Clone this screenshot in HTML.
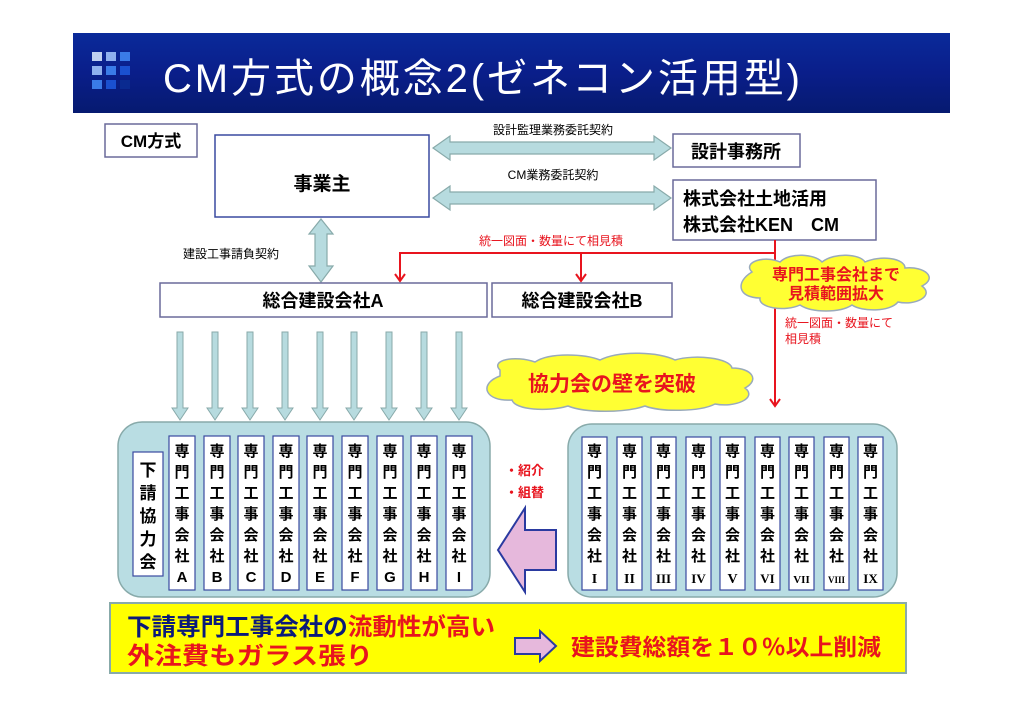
<!DOCTYPE html>
<html><head><meta charset="utf-8"><style>
html,body{margin:0;padding:0;background:#fff;}
svg{display:block;font-family:"Liberation Sans","Noto Sans CJK JP",sans-serif;}
.b{font-weight:bold;}
</style></head><body>
<svg width="1024" height="724" viewBox="0 0 1024 724" xmlns="http://www.w3.org/2000/svg">
<defs>
<linearGradient id="tg" x1="0" y1="0" x2="0" y2="1">
<stop offset="0" stop-color="#0a2a9a"/><stop offset="0.5" stop-color="#0a1e8a"/><stop offset="1" stop-color="#061a70"/>
</linearGradient>
<marker id="ra" markerWidth="12" markerHeight="12" refX="9" refY="6" orient="auto" markerUnits="userSpaceOnUse">
<path d="M2,1 L9,6 L2,11" fill="none" stroke="#e8141e" stroke-width="2"/>
</marker>
</defs>
<rect width="1024" height="724" fill="#fff"/>
<rect x="73" y="33" width="877" height="80" fill="url(#tg)"/>
<g>
<rect x="92" y="52" width="10" height="9" fill="#c0d0f0"/><rect x="106" y="52" width="10" height="9" fill="#8fb0ee"/><rect x="120" y="52" width="10" height="9" fill="#3a7be8"/>
<rect x="92" y="66" width="10" height="9" fill="#8fb0ee"/><rect x="106" y="66" width="10" height="9" fill="#3a7be8"/><rect x="120" y="66" width="10" height="9" fill="#1a50d0"/>
<rect x="92" y="80" width="10" height="9" fill="#3a7be8"/><rect x="106" y="80" width="10" height="9" fill="#1a50d0"/><rect x="120" y="80" width="10" height="9" fill="#0a2a90"/>
</g>
<text x="163" y="92" font-size="40" fill="#fff" textLength="637" lengthAdjust="spacing">CM方式の概念2(ゼネコン活用型)</text>

<rect x="105" y="124" width="92" height="33" fill="#fff" stroke="#6a6a9a" stroke-width="1.5"/>
<text x="151" y="147" font-size="17" class="b" text-anchor="middle">CM方式</text>

<rect x="215" y="135" width="214" height="82" fill="#fff" stroke="#3a4aa0" stroke-width="1.5"/>
<text x="322" y="190" font-size="19" class="b" text-anchor="middle">事業主</text>

<path d="M433,148 L450,136 L450,142 L654,142 L654,136 L671,148 L654,160 L654,154 L450,154 L450,160 Z" fill="#b7dbdf" stroke="#8aa" stroke-width="1.2"/>
<text x="553" y="134" font-size="12" text-anchor="middle">設計監理業務委託契約</text>
<path d="M433,198 L450,186 L450,192 L654,192 L654,186 L671,198 L654,210 L654,204 L450,204 L450,210 Z" fill="#b7dbdf" stroke="#8aa" stroke-width="1.2"/>
<text x="553" y="179" font-size="12" text-anchor="middle">CM業務委託契約</text>

<rect x="673" y="134" width="127" height="33" fill="#fff" stroke="#6a6a9a" stroke-width="1.5"/>
<text x="736" y="158" font-size="18" class="b" text-anchor="middle">設計事務所</text>
<rect x="673" y="180" width="203" height="60" fill="#fff" stroke="#6a6a9a" stroke-width="1.5"/>
<text x="683" y="205" font-size="18" class="b">株式会社土地活用</text>
<text x="683" y="231" font-size="18" class="b">株式会社KEN　CM</text>

<path d="M321,219 L333,234 L327,234 L327,266 L333,266 L321,282 L309,266 L315,266 L315,234 L309,234 Z" fill="#b7dbdf" stroke="#8aa" stroke-width="1.2"/>
<text x="183" y="258" font-size="12">建設工事請負契約</text>

<g stroke="#e8141e" stroke-width="2" fill="none">
<path d="M775,240 L775,406" marker-end="url(#ra)"/>
<path d="M775,253 L400,253 L400,281" marker-end="url(#ra)"/>
<path d="M581,253 L581,281" marker-end="url(#ra)"/>
</g>
<text x="479" y="245" font-size="12" fill="#e8141e">統一図面・数量にて相見積</text>

<rect x="160" y="283" width="327" height="34" fill="#fff" stroke="#6a6a9a" stroke-width="1.5"/>
<text x="323" y="307" font-size="18" class="b" text-anchor="middle">総合建設会社A</text>
<rect x="492" y="283" width="180" height="34" fill="#fff" stroke="#6a6a9a" stroke-width="1.5"/>
<text x="582" y="307" font-size="18" class="b" text-anchor="middle">総合建設会社B</text>

<path d="M752,272 C742,262 765,255 780,262 C790,252 815,254 822,262 C835,252 860,254 865,262 C880,255 905,258 905,268 C925,266 938,278 922,286 C935,296 915,306 898,302 C890,312 862,312 852,305 C840,313 812,313 800,305 C785,312 758,308 760,298 C738,298 735,282 752,272 Z" fill="#ffff33" stroke="#9ab" stroke-width="1.5"/>
<text x="836" y="280" font-size="16" class="b" fill="#e8141e" text-anchor="middle">専門工事会社まで</text>
<text x="836" y="299" font-size="16" class="b" fill="#e8141e" text-anchor="middle">見積範囲拡大</text>
<text x="785" y="327" font-size="12" fill="#e8141e">統一図面・数量にて</text>
<text x="785" y="343" font-size="12" fill="#e8141e">相見積</text>

<path d="M500,370 C490,360 515,355 535,362 C550,352 585,354 600,360 C620,350 660,352 675,360 C695,354 730,358 732,368 C752,368 760,380 745,388 C758,398 735,408 715,404 C700,412 660,412 645,406 C625,413 585,413 568,406 C548,412 515,410 512,400 C485,402 478,384 500,376 Z" fill="#ffff33" stroke="#9ab" stroke-width="1.5"/>
<text x="612" y="391" font-size="21" class="b" fill="#e8141e" text-anchor="middle">協力会の壁を突破</text>

<g fill="#b7dbdf" stroke="#8aa" stroke-width="1">
<path d="M177,332 L183,332 L183,408 L188,408 L180,420 L172,408 L177,408 Z"/>
<path d="M212,332 L218,332 L218,408 L223,408 L215,420 L207,408 L212,408 Z"/>
<path d="M247,332 L253,332 L253,408 L258,408 L250,420 L242,408 L247,408 Z"/>
<path d="M282,332 L288,332 L288,408 L293,408 L285,420 L277,408 L282,408 Z"/>
<path d="M317,332 L323,332 L323,408 L328,408 L320,420 L312,408 L317,408 Z"/>
<path d="M351,332 L357,332 L357,408 L362,408 L354,420 L346,408 L351,408 Z"/>
<path d="M386,332 L392,332 L392,408 L397,408 L389,420 L381,408 L386,408 Z"/>
<path d="M421,332 L427,332 L427,408 L432,408 L424,420 L416,408 L421,408 Z"/>
<path d="M456,332 L462,332 L462,408 L467,408 L459,420 L451,408 L456,408 Z"/>
</g>

<rect x="118" y="422" width="372" height="175" rx="24" fill="#b9dde3" stroke="#8aa" stroke-width="1.5"/>
<rect x="133" y="452" width="30" height="124" fill="#fff" stroke="#3a4aa0" stroke-width="1.2"/>
<g font-size="17" class="b" text-anchor="middle">
<text x="148" y="476">下</text><text x="148" y="499">請</text><text x="148" y="522">協</text><text x="148" y="545">力</text><text x="148" y="568">会</text>
</g>
<g font-size="15" class="b" text-anchor="middle">
<g transform="translate(169,0)"><rect x="0" y="436" width="26" height="154" fill="#fff" stroke="#3a4aa0" stroke-width="1.2"/><text x="13" y="456">専</text><text x="13" y="477">門</text><text x="13" y="498">工</text><text x="13" y="519">事</text><text x="13" y="540">会</text><text x="13" y="561">社</text><text x="13" y="582">A</text></g>
<g transform="translate(204,0)"><rect x="0" y="436" width="26" height="154" fill="#fff" stroke="#3a4aa0" stroke-width="1.2"/><text x="13" y="456">専</text><text x="13" y="477">門</text><text x="13" y="498">工</text><text x="13" y="519">事</text><text x="13" y="540">会</text><text x="13" y="561">社</text><text x="13" y="582">B</text></g>
<g transform="translate(238,0)"><rect x="0" y="436" width="26" height="154" fill="#fff" stroke="#3a4aa0" stroke-width="1.2"/><text x="13" y="456">専</text><text x="13" y="477">門</text><text x="13" y="498">工</text><text x="13" y="519">事</text><text x="13" y="540">会</text><text x="13" y="561">社</text><text x="13" y="582">C</text></g>
<g transform="translate(273,0)"><rect x="0" y="436" width="26" height="154" fill="#fff" stroke="#3a4aa0" stroke-width="1.2"/><text x="13" y="456">専</text><text x="13" y="477">門</text><text x="13" y="498">工</text><text x="13" y="519">事</text><text x="13" y="540">会</text><text x="13" y="561">社</text><text x="13" y="582">D</text></g>
<g transform="translate(307,0)"><rect x="0" y="436" width="26" height="154" fill="#fff" stroke="#3a4aa0" stroke-width="1.2"/><text x="13" y="456">専</text><text x="13" y="477">門</text><text x="13" y="498">工</text><text x="13" y="519">事</text><text x="13" y="540">会</text><text x="13" y="561">社</text><text x="13" y="582">E</text></g>
<g transform="translate(342,0)"><rect x="0" y="436" width="26" height="154" fill="#fff" stroke="#3a4aa0" stroke-width="1.2"/><text x="13" y="456">専</text><text x="13" y="477">門</text><text x="13" y="498">工</text><text x="13" y="519">事</text><text x="13" y="540">会</text><text x="13" y="561">社</text><text x="13" y="582">F</text></g>
<g transform="translate(377,0)"><rect x="0" y="436" width="26" height="154" fill="#fff" stroke="#3a4aa0" stroke-width="1.2"/><text x="13" y="456">専</text><text x="13" y="477">門</text><text x="13" y="498">工</text><text x="13" y="519">事</text><text x="13" y="540">会</text><text x="13" y="561">社</text><text x="13" y="582">G</text></g>
<g transform="translate(411,0)"><rect x="0" y="436" width="26" height="154" fill="#fff" stroke="#3a4aa0" stroke-width="1.2"/><text x="13" y="456">専</text><text x="13" y="477">門</text><text x="13" y="498">工</text><text x="13" y="519">事</text><text x="13" y="540">会</text><text x="13" y="561">社</text><text x="13" y="582">H</text></g>
<g transform="translate(446,0)"><rect x="0" y="436" width="26" height="154" fill="#fff" stroke="#3a4aa0" stroke-width="1.2"/><text x="13" y="456">専</text><text x="13" y="477">門</text><text x="13" y="498">工</text><text x="13" y="519">事</text><text x="13" y="540">会</text><text x="13" y="561">社</text><text x="13" y="582">I</text></g>
</g>

<path d="M498,550 L525,508 L525,530 L556,530 L556,570 L525,570 L525,592 Z" fill="#e6b8dc" stroke="#2a3aa0" stroke-width="2"/>
<text x="505" y="475" font-size="13" class="b" fill="#e8141e">・紹介</text>
<text x="505" y="497" font-size="13" class="b" fill="#e8141e">・組替</text>

<rect x="568" y="424" width="329" height="173" rx="24" fill="#b9dde3" stroke="#8aa" stroke-width="1.5"/>
<g font-size="15" class="b" text-anchor="middle">
<g transform="translate(582,0)"><rect x="0" y="437" width="25" height="153" fill="#fff" stroke="#3a4aa0" stroke-width="1.2"/><text x="12.5" y="456">専</text><text x="12.5" y="477">門</text><text x="12.5" y="498">工</text><text x="12.5" y="519">事</text><text x="12.5" y="540">会</text><text x="12.5" y="561">社</text><text x="12.5" y="583" font-family="Liberation Serif,serif" font-size="14">I</text></g>
<g transform="translate(617,0)"><rect x="0" y="437" width="25" height="153" fill="#fff" stroke="#3a4aa0" stroke-width="1.2"/><text x="12.5" y="456">専</text><text x="12.5" y="477">門</text><text x="12.5" y="498">工</text><text x="12.5" y="519">事</text><text x="12.5" y="540">会</text><text x="12.5" y="561">社</text><text x="12.5" y="583" font-family="Liberation Serif,serif" font-size="14">II</text></g>
<g transform="translate(651,0)"><rect x="0" y="437" width="25" height="153" fill="#fff" stroke="#3a4aa0" stroke-width="1.2"/><text x="12.5" y="456">専</text><text x="12.5" y="477">門</text><text x="12.5" y="498">工</text><text x="12.5" y="519">事</text><text x="12.5" y="540">会</text><text x="12.5" y="561">社</text><text x="12.5" y="583" font-family="Liberation Serif,serif" font-size="13">III</text></g>
<g transform="translate(686,0)"><rect x="0" y="437" width="25" height="153" fill="#fff" stroke="#3a4aa0" stroke-width="1.2"/><text x="12.5" y="456">専</text><text x="12.5" y="477">門</text><text x="12.5" y="498">工</text><text x="12.5" y="519">事</text><text x="12.5" y="540">会</text><text x="12.5" y="561">社</text><text x="12.5" y="583" font-family="Liberation Serif,serif" font-size="13">IV</text></g>
<g transform="translate(720,0)"><rect x="0" y="437" width="25" height="153" fill="#fff" stroke="#3a4aa0" stroke-width="1.2"/><text x="12.5" y="456">専</text><text x="12.5" y="477">門</text><text x="12.5" y="498">工</text><text x="12.5" y="519">事</text><text x="12.5" y="540">会</text><text x="12.5" y="561">社</text><text x="12.5" y="583" font-family="Liberation Serif,serif" font-size="14">V</text></g>
<g transform="translate(755,0)"><rect x="0" y="437" width="25" height="153" fill="#fff" stroke="#3a4aa0" stroke-width="1.2"/><text x="12.5" y="456">専</text><text x="12.5" y="477">門</text><text x="12.5" y="498">工</text><text x="12.5" y="519">事</text><text x="12.5" y="540">会</text><text x="12.5" y="561">社</text><text x="12.5" y="583" font-family="Liberation Serif,serif" font-size="13">VI</text></g>
<g transform="translate(789,0)"><rect x="0" y="437" width="25" height="153" fill="#fff" stroke="#3a4aa0" stroke-width="1.2"/><text x="12.5" y="456">専</text><text x="12.5" y="477">門</text><text x="12.5" y="498">工</text><text x="12.5" y="519">事</text><text x="12.5" y="540">会</text><text x="12.5" y="561">社</text><text x="12.5" y="583" font-family="Liberation Serif,serif" font-size="11">VII</text></g>
<g transform="translate(824,0)"><rect x="0" y="437" width="25" height="153" fill="#fff" stroke="#3a4aa0" stroke-width="1.2"/><text x="12.5" y="456">専</text><text x="12.5" y="477">門</text><text x="12.5" y="498">工</text><text x="12.5" y="519">事</text><text x="12.5" y="540">会</text><text x="12.5" y="561">社</text><text x="12.5" y="583" font-family="Liberation Serif,serif" font-size="9">VIII</text></g>
<g transform="translate(858,0)"><rect x="0" y="437" width="25" height="153" fill="#fff" stroke="#3a4aa0" stroke-width="1.2"/><text x="12.5" y="456">専</text><text x="12.5" y="477">門</text><text x="12.5" y="498">工</text><text x="12.5" y="519">事</text><text x="12.5" y="540">会</text><text x="12.5" y="561">社</text><text x="12.5" y="583" font-family="Liberation Serif,serif" font-size="13">IX</text></g>
</g>

<rect x="110" y="603" width="796" height="70" fill="#ffff00" stroke="#8aa" stroke-width="2"/>
<text x="127" y="635" font-size="24" class="b" textLength="368" lengthAdjust="spacingAndGlyphs"><tspan fill="#0a1a7a">下請専門工事会社の</tspan><tspan fill="#e8141e">流動性が高い</tspan></text>
<text x="127" y="664" font-size="24" class="b" fill="#e8141e" textLength="246" lengthAdjust="spacingAndGlyphs">外注費もガラス張り</text>
<path d="M515,638 L540,638 L540,631 L556,646 L540,661 L540,654 L515,654 Z" fill="#e6b8dc" stroke="#2a3aa0" stroke-width="2"/>
<text x="571" y="655" font-size="23" class="b" fill="#e8141e" textLength="310" lengthAdjust="spacingAndGlyphs">建設費総額を１０％以上削減</text>
</svg>
</body></html>
